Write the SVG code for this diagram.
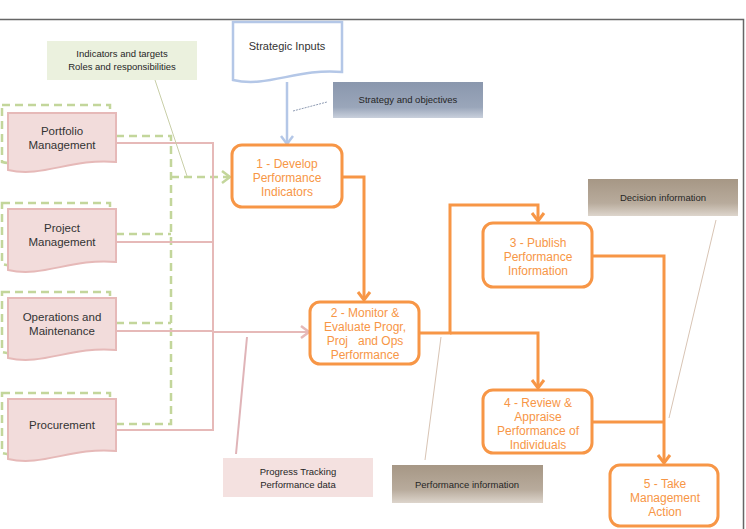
<svg xmlns="http://www.w3.org/2000/svg" width="746" height="529" viewBox="0 0 746 529">
<style>
.doc{fill:#f2dcdb;stroke:#e6b9b8;stroke-width:2}
.shadow{fill:none;stroke:#c3d69b;stroke-width:2.5;stroke-dasharray:8 5}
.dt{font-family:"Liberation Sans",Arial,sans-serif;font-size:11.5px;fill:#333;text-anchor:middle}
.ob{fill:#fff;stroke:#f79646;stroke-width:3}
.ot{font-family:"Liberation Sans",Arial,sans-serif;font-size:12px;fill:#f79646;text-anchor:middle}
.ct{font-family:"Liberation Sans",Arial,sans-serif;font-size:9.5px;fill:#262626;text-anchor:middle}
.oc{fill:none;stroke:#f79646;stroke-width:3}
.gc{fill:none;stroke:#c3d69b;stroke-width:2.5;stroke-dasharray:8 5}
.pc{fill:none;stroke:#e6b9b8;stroke-width:2}
</style>
<defs>
<marker id="ao" markerUnits="userSpaceOnUse" markerWidth="20" markerHeight="20" refX="10" refY="10" orient="auto" overflow="visible"><path d="M2 4 L10 10 L2 16" fill="none" stroke="#f79646" stroke-width="3"/></marker>
<marker id="ag" markerUnits="userSpaceOnUse" markerWidth="20" markerHeight="20" refX="10" refY="10" orient="auto" overflow="visible"><path d="M2 4 L10 10 L2 16" fill="none" stroke="#c3d69b" stroke-width="2.5"/></marker>
<marker id="ap" markerUnits="userSpaceOnUse" markerWidth="20" markerHeight="20" refX="10" refY="10" orient="auto" overflow="visible"><path d="M2 4 L10 10 L2 16" fill="none" stroke="#e6b9b8" stroke-width="2.5"/></marker>
<marker id="ab" markerUnits="userSpaceOnUse" markerWidth="20" markerHeight="20" refX="10" refY="10" orient="auto" overflow="visible"><path d="M2 4 L10 10 L2 16" fill="none" stroke="#b4c7e7" stroke-width="2.5"/></marker>
<linearGradient id="gb" x1="0" y1="0" x2="0" y2="1"><stop offset="0" stop-color="#8a97ad"/><stop offset="0.7" stop-color="#9aa6ba"/><stop offset="1" stop-color="#c9d0dc"/></linearGradient>
<linearGradient id="gt" x1="0" y1="0" x2="0" y2="1"><stop offset="0" stop-color="#a69785"/><stop offset="0.65" stop-color="#b8ab9c"/><stop offset="1" stop-color="#ddd5cc"/></linearGradient>
</defs>
<rect width="746" height="529" fill="#fff"/>
<path d="M0 19.5 H743.5 V529" fill="none" stroke="#666" stroke-width="1.5"/>

<g id="connectors">
<path class="gc" d="M116 136 H171 V424 H116"/>
<path class="gc" d="M116 234 H171"/>
<path class="gc" d="M116 323 H171"/>
<path class="gc" d="M171 177 H230" marker-end="url(#ag)"/>
<path class="pc" d="M116 143 H213 V430 H116"/>
<path class="pc" d="M116 242 H213"/>
<path class="pc" d="M116 331 H213"/>
<path class="pc" d="M213 332 H309" marker-end="url(#ap)"/>
<path d="M287 82 V144" fill="none" stroke="#b4c7e7" stroke-width="2.5" marker-end="url(#ab)"/>
<path class="oc" d="M342 177 H364 V300" marker-end="url(#ao)"/>
<path class="oc" d="M419 333 H450 V205 H538 V221" marker-end="url(#ao)"/>
<path class="oc" d="M450 333 H538 V388" marker-end="url(#ao)"/>
<path class="oc" d="M592 256 H664 V463" marker-end="url(#ao)"/>
<path class="oc" d="M592 422 H664"/>
<path d="M155 80 L187 176" stroke="#c9cfa8" stroke-width="1"/>
<path d="M293 111 L327 102" stroke="#8e9bb3" stroke-width="1" stroke-dasharray="2 1"/>
<path d="M236 454 L247 337" stroke="#e0b4b8" stroke-width="2"/>
<path d="M425 460 L441 337" stroke="#d8c4b4" stroke-width="1"/>
<path d="M716 220 L669 418" stroke="#d8c4b4" stroke-width="1"/>
</g>

<g id="portfolio">
<path class="shadow" transform="translate(-6,-8)" d="M8 113 H116 V162 C71 158, 43 178, 8 170 Z"/>
<path class="doc" d="M8 113 H116 V162 C71 158, 43 178, 8 170 Z"/>
<text class="dt" x="62" y="135">Portfolio</text>
<text class="dt" x="62" y="149">Management</text>
</g>
<g id="project">
<path class="shadow" transform="translate(-6,-6)" d="M8 209 H116 V262 C71 258, 43 278, 8 270 Z"/>
<path class="doc" d="M8 209 H116 V262 C71 258, 43 278, 8 270 Z"/>
<text class="dt" x="62" y="232">Project</text>
<text class="dt" x="62" y="246">Management</text>
</g>
<g id="operations">
<path class="shadow" transform="translate(-6,-6)" d="M8 298 H116 V350 C71 346, 43 366, 8 358 Z"/>
<path class="doc" d="M8 298 H116 V350 C71 346, 43 366, 8 358 Z"/>
<text class="dt" x="62" y="321">Operations and</text>
<text class="dt" x="62" y="335">Maintenance</text>
</g>
<g id="procurement">
<path class="shadow" transform="translate(-6,-6)" d="M8 399 H116 V451 C71 447, 43 467, 8 459 Z"/>
<path class="doc" d="M8 399 H116 V451 C71 447, 43 467, 8 459 Z"/>
<text class="dt" x="62" y="429">Procurement</text>
</g>

<g id="strategic-inputs">
<path d="M233 22 H342 V72 C297 68, 268 88, 233 80 Z" fill="#fff" stroke="#b4c7e7" stroke-width="2.5"/>
<text class="dt" x="287" y="50" style="font-size:11px">Strategic Inputs</text>
</g>

<g id="box1">
<rect class="ob" x="232" y="145" width="110" height="62" rx="10"/>
<text class="ot" x="287" y="167.5">1 - Develop</text>
<text class="ot" x="287" y="181.5">Performance</text>
<text class="ot" x="287" y="195.5">Indicators</text>
</g>
<g id="box2">
<rect class="ob" x="310" y="302" width="109" height="62" rx="10"/>
<text class="ot" x="365" y="316.5">2 - Monitor &amp;</text>
<text class="ot" x="365" y="331">Evaluate Progr,</text>
<text class="ot" x="365" y="345" style="white-space:pre">Proj   and Ops</text>
<text class="ot" x="365" y="359">Performance</text>
</g>
<g id="box3">
<rect class="ob" x="483" y="223" width="109" height="64" rx="10"/>
<text class="ot" x="538" y="246.5">3 - Publish</text>
<text class="ot" x="538" y="260.5">Performance</text>
<text class="ot" x="538" y="274.5">Information</text>
</g>
<g id="box4">
<rect class="ob" x="483" y="390" width="109" height="63" rx="10"/>
<text class="ot" x="538" y="406.5">4 - Review &amp;</text>
<text class="ot" x="538" y="420.5">Appraise</text>
<text class="ot" x="538" y="434.5">Performance of</text>
<text class="ot" x="538" y="448.5">Individuals</text>
</g>
<g id="box5">
<rect class="ob" x="610" y="465" width="108" height="61" rx="10"/>
<text class="ot" x="665" y="487.5">5 - Take</text>
<text class="ot" x="665" y="502">Management</text>
<text class="ot" x="665" y="516">Action</text>
</g>

<g id="indicators-callout">
<rect x="47" y="41" width="150" height="39" fill="#ebf1de"/>
<text class="ct" x="122" y="57">Indicators and targets</text>
<text class="ct" x="122" y="70">Roles and responsibilities</text>
</g>
<g id="strategy-callout">
<rect x="333" y="82" width="150" height="36" fill="url(#gb)"/>
<text class="ct" x="408" y="102.5">Strategy and objectives</text>
</g>
<g id="progress-callout">
<rect x="223" y="458" width="150" height="39" fill="#f2dcdb" opacity="0.85"/>
<text class="ct" x="298" y="475">Progress Tracking</text>
<text class="ct" x="298" y="488">Performance data</text>
</g>
<g id="performance-callout">
<rect x="392" y="465" width="151" height="38" fill="url(#gt)"/>
<text class="ct" x="467" y="487.5">Performance information</text>
</g>
<g id="decision-callout">
<rect x="588" y="179" width="150" height="37" fill="url(#gt)"/>
<text class="ct" x="663" y="200.5">Decision information</text>
</g>
</svg>
